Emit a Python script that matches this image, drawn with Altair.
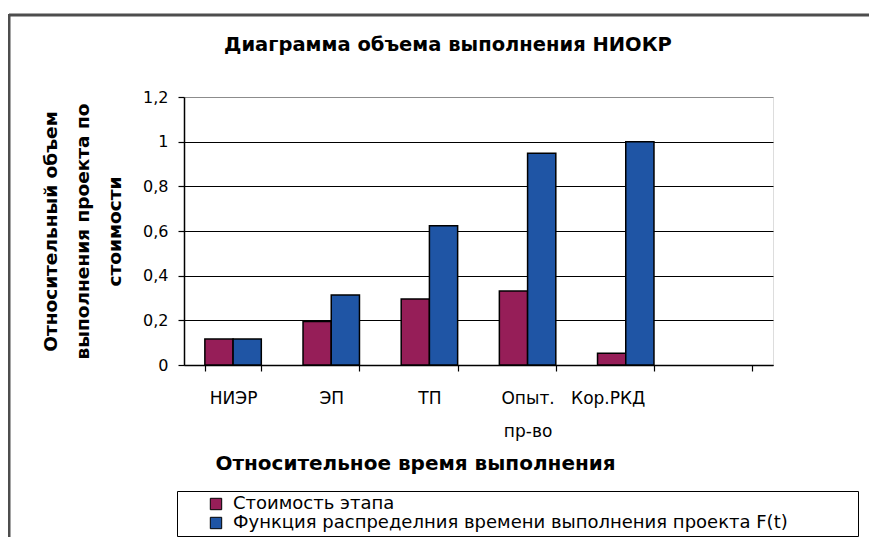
import altair as alt
import pandas as pd

categories = ["НИЭР", "ЭП", "ТП", "Опыт. пр-во", "Кор.РКД"]
axis_slots = categories + [""]
series_names = ["Стоимость этапа", "Функция распределния времени выполнения проекта F(t)"]
stage_cost = [0.116, 0.195, 0.296, 0.331, 0.053]
time_distribution = [0.116, 0.313, 0.623, 0.948, 1.0]
y_ticks = [0, 0.2, 0.4, 0.6, 0.8, 1.0, 1.2]
title_text = "Диаграмма объема выполнения НИОКР"
x_title = "Относительное время выполнения"
y_title = ["Относительный объем", "выполнения проекта по", "стоимости"]
colors = ["#961E58", "#1F55A5"]

rows = []
for c, a, b in zip(categories, stage_cost, time_distribution):
    rows.append({"stage": c, "series": series_names[0], "value": a})
    rows.append({"stage": c, "series": series_names[1], "value": b})
df = pd.DataFrame(rows)

FONT = "DejaVu Sans"
BLANK_PAD = "\u2800" * 5

bars = alt.Chart(df).mark_bar(stroke="black", strokeWidth=1.5).encode(
    x=alt.X(
        "stage:N",
        sort=axis_slots,
        scale=alt.Scale(domain=axis_slots, paddingInner=0.425, paddingOuter=0.2125),
        axis=alt.Axis(
            title=x_title,
            titleFont=FONT, titleFontSize=20, titleFontWeight="bold", titleColor="black",
            titleX=231, titleY=98, titleAlign="center", titleBaseline="middle",
            labelAngle=0, labelFont=FONT, labelFontSize=17, labelColor="black",
            labelPadding=19, labelBaseline="top", labelLineHeight=33,
            labelExpr="datum.value == 'Опыт. пр-во' ? ['Опыт.', 'пр-во'] : datum.label",
            labelOffset={"condition": {"test": "datum.value == 'Кор.РКД'", "value": -18}, "value": 0},
            tickBand="extent", tickSize=6, tickColor="black", tickWidth=1.2,
            domainColor="black", domainWidth=1.5, grid=False,
        ),
    ),
    xOffset=alt.XOffset("series:N", sort=series_names, scale=alt.Scale(domain=series_names)),
    y=alt.Y(
        "value:Q",
        scale=alt.Scale(domain=[0, 1.2], nice=False),
        axis=alt.Axis(
            values=y_ticks, format="~g", labelExpr="replace(datum.label, '.', ',')",
            labelFont=FONT, labelFontSize=16, labelColor="black", labelPadding=10,
            tickSize=6, tickColor="black", tickWidth=1.2,
            domainColor="black", domainWidth=1.5,
            grid=True,
            gridColor={"condition": {"test": "datum.value >= 1.2", "value": "#8c8c8c"}, "value": "black"},
            gridWidth=1.2,
            title=y_title, titleFont=FONT, titleFontSize=18.5, titleFontWeight="bold",
            titleColor="black", titleLineHeight=32, titleX=-134, titleY=134,
            titleAlign="center", titleBaseline="middle", titleAngle=270,
        ),
    ),
    color=alt.Color(
        "series:N",
        sort=series_names,
        scale=alt.Scale(domain=series_names, range=colors),
        legend=alt.Legend(
            title=None, orient="none", legendX=-7, legendY=394, direction="vertical",
            strokeColor="black", fillColor="white", padding=4,
            symbolType="square", symbolSize=130, symbolStrokeColor="black",
            symbolStrokeWidth=1, symbolOffset=26, symbolOpacity=1,
            labelFont=FONT, labelFontSize=18, labelColor="black", labelOffset=8,
            labelLimit=0, rowPadding=1,
            labelExpr="datum.label + '" + BLANK_PAD + "'",
        ),
    ),
)

frame_df = pd.DataFrame({"k": [0]})
frame_top = alt.Chart(frame_df).mark_rule(color="#4d4d4d", strokeWidth=3).encode(
    x=alt.value(-175), x2=alt.value(700), y=alt.value(-82)
)
frame_left = alt.Chart(frame_df).mark_rule(color="#4d4d4d", strokeWidth=3).encode(
    x=alt.value(-175), y=alt.value(-83), y2=alt.value(470)
)
title_df = pd.DataFrame({"t": [title_text]})
title_mark = alt.Chart(title_df).mark_text(
    font=FONT, fontSize=19.5, fontWeight="bold", color="black",
    align="center", baseline="middle",
).encode(text="t:N", x=alt.value(264), y=alt.value(-52))

chart = alt.layer(frame_top, frame_left, title_mark, bars).properties(
    width=589,
    height=268,
    autosize=alt.AutoSizeParams(type="none"),
    padding={"left": 176, "top": 89, "right": 96, "bottom": 172},
).configure_view(
    stroke="#8c8c8c", strokeWidth=1.5, fill="#CFEBF1"
).configure_legend(
    strokeWidth=2
).configure(background="white")

chart.save("out.html", embed_options={"renderer": "svg", "actions": False})
